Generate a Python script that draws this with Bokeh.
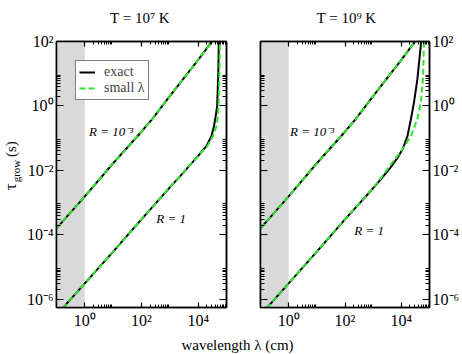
import numpy as np
from bokeh.plotting import figure
from bokeh.models import (LogAxis, FixedTicker, CustomJSTickFormatter, Label, BoxAnnotation,
                          Legend, LegendItem, Range1d)
from bokeh.layouts import row, column
from bokeh.embed import file_html
from bokeh.resources import INLINE

# ---------------- data ----------------
titles = ["T = 10\u2077 K", "T = 10\u2079 K"]
x_title = "wavelength \u03bb (cm)"
y_title_parts = ["\u03c4", "grow", "(s)"]
x_major = [1e0, 1e2, 1e4]
x_tick_labels = ["10\u2070", "10\u00b2", "10\u2074"]
y_major = [1e-6, 1e-4, 1e-2, 1e0, 1e2]
y_tick_labels = ["10\u207b\u2076", "10\u207b\u2074", "10\u207b\u00b2", "10\u2070", "10\u00b2"]
x_minor = [k * 10.0 ** e for e in (0, 2, 4) for k in range(2, 10)]
y_minor = [k * 10.0 ** e for e in (-6, -4, -2, 0) for k in range(2, 10)]
x_lim = (0.1, 1e5)
y_lim = (5.5e-7, 1e2)
shade_max = 1.0  # grey band: lambda < 1 cm

# T = 1e7 K
lam_r3_T7 = [0.1, 1, 10, 100, 234, 1000, 2630, 1e4, 2.95e4, 3.3e4]
tau_r3_T7 = [1.58e-4, 1.55e-3, 1.66e-2, 0.158, 0.38, 2.0, 6.0, 26.9, 95.5, 112]
lam_r1_exact_T7 = [0.1, 1, 10, 100, 1000, 2290, 1e4, 1.95e4, 2.95e4, 3.63e4, 4.17e4, 4.68e4, 5.13e4, 5.37e4, 5.5e4]
tau_r1_exact_T7 = [3.2e-7, 3.1e-6, 3.0e-5, 3.0e-4, 2.95e-3, 6.5e-3, 2.8e-2, 5.6e-2, 0.115, 0.24, 0.49, 1.0, 10, 100, 200]
lam_r1_small_T7 = [0.1, 1, 10, 100, 1000, 2290, 1e4, 2.09e4, 3.31e4, 4.47e4, 5.01e4, 5.25e4, 5.62e4, 5.89e4, 6.03e4]
tau_r1_small_T7 = [3.2e-7, 3.1e-6, 3.0e-5, 3.0e-4, 2.95e-3, 6.5e-3, 2.8e-2, 5.6e-2, 0.115, 0.24, 0.49, 1.0, 10, 100, 200]

# T = 1e9 K
lam_r3_T9 = [0.1, 1, 10, 100, 234, 1000, 2630, 1e4, 2.95e4, 3.3e4]
tau_r3_T9 = [1.58e-4, 1.55e-3, 1.66e-2, 0.158, 0.38, 2.0, 6.0, 26.9, 95.5, 112]
lam_r1_exact_T9 = [0.1, 1, 10, 100, 575, 1585, 3981, 7079, 11220, 16600, 21880, 28180, 37150, 48980, 51300]
tau_r1_exact_T9 = [3.2e-7, 3.1e-6, 3.0e-5, 3.0e-4, 1.62e-3, 4.47e-3, 1.17e-2, 2.34e-2, 4.57e-2, 0.117, 0.389, 1.29, 6.76, 74, 126]
lam_r1_small_T9 = [0.1, 1, 10, 100, 575, 1585, 3981, 7079, 11220, 21880, 37150, 48980, 58880, 63100, 64570]
tau_r1_small_T9 = [3.2e-7, 3.1e-6, 3.0e-5, 3.0e-4, 1.62e-3, 4.68e-3, 1.41e-2, 2.69e-2, 4.57e-2, 0.117, 0.389, 1.29, 6.76, 74, 126]

# curve labels (text, lambda, tau)
labels_T7 = [("R = 10\u207b\u00b3", 8.5, 0.158), ("R = 1", 1120, 3.3e-4)]
labels_T9 = [("R = 10\u207b\u00b3", 6.8, 0.155), ("R = 1", 720, 1.4e-4)]

# ---------------- style ----------------
FONT = "Times New Roman"
GREEN = "#2ee62e"
GREY = "#d9d9d9"
ROW_H = 304
TOP_B = 11
BOT_B = 27
YS_W = 23

LABEL_JS = """
const e = Math.round(Math.log10(tick));
const s = labels[String(e)];
return s === undefined ? '' : s;
"""


def tick_map(ticks, labs):
    return {str(int(round(np.log10(t)))): l for t, l in zip(ticks, labs)}


def style_axis(ax, is_x, show_labels):
    ax.ticker = FixedTicker(ticks=x_major if is_x else y_major,
                            minor_ticks=x_minor if is_x else y_minor)
    ax.major_tick_out = 0
    ax.minor_tick_out = 0
    ax.major_tick_in = 5 if is_x else 7
    ax.minor_tick_in = 3 if is_x else 4
    ax.major_tick_line_color = "black"
    ax.minor_tick_line_color = "black"
    ax.major_tick_line_width = 1.2
    ax.minor_tick_line_width = 1
    ax.axis_line_color = "black"
    ax.axis_line_width = 1.5
    if show_labels:
        mapping = tick_map(x_major, x_tick_labels) if is_x else tick_map(y_major, y_tick_labels)
        ax.formatter = CustomJSTickFormatter(args=dict(labels=mapping), code=LABEL_JS)
        ax.major_label_text_font = FONT
        ax.major_label_text_font_size = "16px"
        ax.major_label_text_color = "black"
        ax.major_label_standoff = 4 if is_x else 3
    else:
        ax.formatter = CustomJSTickFormatter(code="return ''")
        ax.major_label_text_font_size = "0px"
        ax.major_label_standoff = 0


def make_panel(lam_r3, tau_r3, lam_ex, tau_ex, lam_sm, tau_sm, labels, side, width, bl, br):
    p = figure(width=width, height=ROW_H, x_axis_type="log", y_axis_type="log",
               x_range=Range1d(*x_lim), y_range=Range1d(*y_lim),
               output_backend="svg", toolbar_location=None,
               y_axis_location=side,
               min_border_left=bl, min_border_right=br,
               min_border_top=TOP_B, min_border_bottom=BOT_B)
    p.grid.visible = False
    p.outline_line_color = "black"
    p.outline_line_width = 1.5
    p.background_fill_color = "white"
    p.border_fill_color = "white"

    style_axis(p.xaxis[0], True, True)
    style_axis(p.yaxis[0], False, True)
    top = LogAxis()
    style_axis(top, True, False)
    p.add_layout(top, "above")
    other = LogAxis()
    style_axis(other, False, False)
    p.add_layout(other, "left" if side == "right" else "right")

    p.add_layout(BoxAnnotation(right=shade_max, fill_color=GREY, fill_alpha=1.0,
                               line_alpha=0, level="underlay"))

    p.line(lam_r3, tau_r3, color="black", line_width=2)
    r_ex = p.line(lam_ex, tau_ex, color="black", line_width=2)
    p.line(lam_r3, tau_r3, color=GREEN, line_width=2, line_dash="6 3")
    r_sm = p.line(lam_sm, tau_sm, color=GREEN, line_width=2, line_dash="6 3")

    for txt, lx, ty in labels:
        p.add_layout(Label(x=lx, y=ty, text=txt, text_align="center", text_baseline="middle",
                           text_font=FONT, text_font_style="italic", text_font_size="13px",
                           text_color="black"))
    return p, r_ex, r_sm


def strip(w, h):
    s = figure(width=w, height=h, x_range=Range1d(0, w), y_range=Range1d(0, h),
               x_axis_location=None, y_axis_location=None,
               output_backend="svg", toolbar_location=None, min_border=0)
    s.outline_line_color = None
    s.grid.visible = False
    s.background_fill_color = "white"
    s.border_fill_color = "white"
    return s


p1, r_ex1, r_sm1 = make_panel(lam_r3_T7, tau_r3_T7, lam_r1_exact_T7, tau_r1_exact_T7,
                              lam_r1_small_T7, tau_r1_small_T7, labels_T7, "left",
                              243 - YS_W, 53 - YS_W, 17)
p2, _, _ = make_panel(lam_r3_T9, tau_r3_T9, lam_r1_exact_T9, tau_r1_exact_T9,
                      lam_r1_small_T9, tau_r1_small_T9, labels_T9, "right", 219, 17, 30)

legend = Legend(items=[LegendItem(label="exact", renderers=[r_ex1]),
                       LegendItem(label="small \u03bb", renderers=[r_sm1])],
                location="top_left", margin=19, padding=3, spacing=0,
                glyph_width=16, glyph_height=12, label_height=12, label_standoff=9,
                label_text_font=FONT, label_text_font_size="14px",
                border_line_color="black", border_line_width=1,
                background_fill_color="white", background_fill_alpha=1.0)
p1.add_layout(legend)

# title strip
ts = strip(462, 30)
for t, cx in zip(titles, [139.5, 346]):
    ts.add_layout(Label(x=cx, y=13, text=t, text_align="center", text_baseline="alphabetic",
                        text_font=FONT, text_font_size="15px", text_color="black"))

# y-label strip
ys = strip(YS_W, ROW_H)
for txt, cx, cy, fs in zip(y_title_parts, [10, 15, 10], [138, 156, 181], ["17px", "11px", "15px"]):
    ys.add_layout(Label(x=cx, y=cy, text=txt, angle=np.pi / 2, text_align="center",
                        text_baseline="middle", text_font=FONT, text_font_size=fs,
                        text_color="black"))

# x-label strip
xs = strip(462, 20)
xs.add_layout(Label(x=237, y=10, text=x_title, text_align="center", text_baseline="middle",
                    text_font=FONT, text_font_size="15px", text_color="black"))

layout = column(ts, row(ys, p1, p2), xs)
open("out.html", "w").write(file_html(layout, INLINE))
